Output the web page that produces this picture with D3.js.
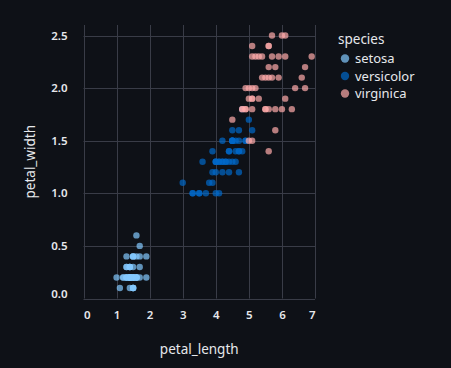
<!DOCTYPE html>
<html><head><meta charset="utf-8">
<script src="https://cdn.jsdelivr.net/npm/d3@7"></script>
<style>html,body{margin:0;padding:0;background:#0e1117;}svg{display:block;}</style>
</head><body><svg id="c" width="451" height="368"></svg>
<script>
const species = ["setosa","versicolor","virginica"];
const colors = ["#83c9ff","#0068c9","#ffabab"];
const xTicks = [0,1,2,3,4,5,6,7];
const yTicks = [0,0.5,1,1.5,2,2.5];
const setosaLength = [1.4,1.4,1.3,1.5,1.4,1.7,1.4,1.5,1.4,1.5,1.5,1.6,1.4,1.1,1.2,1.5,1.3,1.4,1.7,1.5,1.7,1.5,1.0,1.7,1.9,1.6,1.6,1.5,1.4,1.6,1.6,1.5,1.5,1.4,1.5,1.2,1.3,1.5,1.3,1.5,1.3,1.3,1.3,1.6,1.9,1.4,1.6,1.4,1.5,1.4];
const setosaWidth  = [0.2,0.2,0.2,0.2,0.2,0.4,0.3,0.2,0.2,0.1,0.2,0.2,0.1,0.1,0.2,0.4,0.4,0.3,0.3,0.3,0.2,0.4,0.2,0.5,0.2,0.2,0.4,0.2,0.2,0.2,0.2,0.4,0.1,0.2,0.1,0.2,0.2,0.1,0.2,0.2,0.3,0.3,0.2,0.6,0.4,0.3,0.2,0.2,0.2,0.2];
const versicolorLength = [4.7,4.5,4.9,4.0,4.6,4.5,4.7,3.3,4.6,3.9,3.5,4.2,4.0,4.7,3.6,4.4,4.5,4.1,4.5,3.9,4.8,4.0,4.9,4.7,4.3,4.4,4.8,5.0,4.5,3.5,3.8,3.7,3.9,5.1,4.5,4.5,4.7,4.4,4.1,4.0,4.4,4.6,4.0,3.3,4.2,4.2,4.2,4.3,3.0,4.1];
const versicolorWidth  = [1.4,1.5,1.5,1.3,1.5,1.3,1.6,1.0,1.3,1.4,1.0,1.5,1.0,1.4,1.3,1.4,1.5,1.0,1.5,1.1,1.8,1.3,1.5,1.2,1.3,1.4,1.4,1.7,1.5,1.0,1.1,1.0,1.2,1.6,1.5,1.6,1.5,1.3,1.3,1.3,1.2,1.4,1.2,1.0,1.3,1.2,1.3,1.3,1.1,1.3];
const virginicaLength = [6.0,5.1,5.9,5.6,5.8,6.6,4.5,6.3,5.8,6.1,5.1,5.3,5.5,5.0,5.1,5.3,5.5,6.7,6.9,5.0,5.7,4.9,6.7,4.9,5.7,6.0,4.8,4.9,5.6,5.8,6.1,6.4,5.6,5.1,5.6,6.1,5.6,5.5,4.8,5.4,5.6,5.1,5.1,5.9,5.7,5.2,5.0,5.2,5.4,5.1];
const virginicaWidth  = [2.5,1.9,2.1,1.8,2.2,2.1,1.7,1.8,1.8,2.5,2.0,1.9,2.1,2.0,2.4,2.3,1.8,2.2,2.3,1.5,2.3,2.0,2.0,1.8,2.1,1.8,1.8,1.8,2.1,1.6,1.9,2.0,2.2,1.5,1.4,2.3,2.4,1.8,1.8,2.1,2.4,2.3,1.9,2.3,2.5,2.3,1.9,2.0,2.3,1.8];

const lengths = [setosaLength, versicolorLength, virginicaLength];
const widths = [setosaWidth, versicolorWidth, virginicaWidth];
const data = [];
species.forEach((s,i)=>lengths[i].forEach((v,j)=>data.push({species:s,petal_length:v,petal_width:widths[i][j]})));

const svg = d3.select("#c");
const pLeft=83.5, pRight=315, pTop=25, pBottom=298.5;
const x = d3.scaleLinear().domain([0,7]).range([pLeft,pRight]);
const y = d3.scaleLinear().domain([0,2.6]).range([pBottom,pTop]);
const color = d3.scaleOrdinal().domain(species).range(colors);
const gridColor = "#393c47";
const textColor = "#e6e8ec";
const font = "'Noto Sans', sans-serif";

// grid
svg.append("g").selectAll("line").data(yTicks).join("line")
  .attr("x1",pLeft).attr("x2",pRight).attr("y1",d=>Math.round(y(d))+0.5).attr("y2",d=>Math.round(y(d))+0.5)
  .attr("stroke",gridColor).attr("stroke-width",1);
svg.append("g").selectAll("line").data(xTicks).join("line")
  .attr("y1",pTop).attr("y2",pBottom).attr("x1",d=>Math.round(x(d))+0.5).attr("x2",d=>Math.round(x(d))+0.5)
  .attr("stroke",gridColor).attr("stroke-width",1);

// x axis labels
const xAxis = d3.axisBottom(x).tickValues(xTicks).tickSize(0).tickPadding(12).tickFormat(d3.format("d"));
const gx = svg.append("g").attr("transform",`translate(0,${pBottom})`).call(xAxis);
gx.select(".domain").remove();
gx.selectAll("text").attr("fill",textColor).attr("font-family",font).attr("font-size",11.5).attr("font-weight",600)
  .attr("text-anchor",(d,i)=> i===0?"start":(i===xTicks.length-1?"end":"middle"));
// y axis labels
const yAxis = d3.axisLeft(y).tickValues(yTicks).tickSize(0).tickPadding(16).tickFormat(d3.format(".1f"));
const gy = svg.append("g").attr("transform",`translate(${pLeft},0)`).call(yAxis);
gy.select(".domain").remove();
gy.selectAll("text").attr("fill",textColor).attr("font-family",font).attr("font-size",11.5).attr("font-weight",600)
  .attr("dy",(d,i)=> i===0?"-0.05em":"0.32em");

// titles
svg.append("text").attr("x",(pLeft+pRight)/2).attr("y",354).attr("text-anchor","middle")
  .attr("fill",textColor).attr("font-family",font).attr("font-size",13.5).text("petal_length");
svg.append("text").attr("transform",`translate(35,${(pTop+pBottom)/2}) rotate(-90)`).attr("text-anchor","middle")
  .attr("fill",textColor).attr("font-family",font).attr("font-size",13.5).text("petal_width");

// points
svg.append("g").selectAll("circle").data(data).join("circle")
  .attr("cx",d=>x(d.petal_length)).attr("cy",d=>y(d.petal_width)).attr("r",3.2)
  .attr("fill",d=>color(d.species)).attr("fill-opacity",0.7);

// legend
const lg = svg.append("g");
lg.append("text").attr("x",338).attr("y",44).attr("fill",textColor).attr("font-family",font)
  .attr("font-size",13.5).text("species");
const items = lg.selectAll("g.item").data(species).join("g").attr("class","item")
  .attr("transform",(d,i)=>`translate(0,${58.5+i*17.5})`);
items.append("circle").attr("cx",345).attr("cy",0).attr("r",4.2).attr("fill",d=>color(d)).attr("fill-opacity",0.7);
items.append("text").attr("x",355).attr("y",0).attr("dy","0.35em").attr("fill",textColor).attr("font-family",font)
  .attr("font-size",13).text(d=>d);
</script></body></html>
